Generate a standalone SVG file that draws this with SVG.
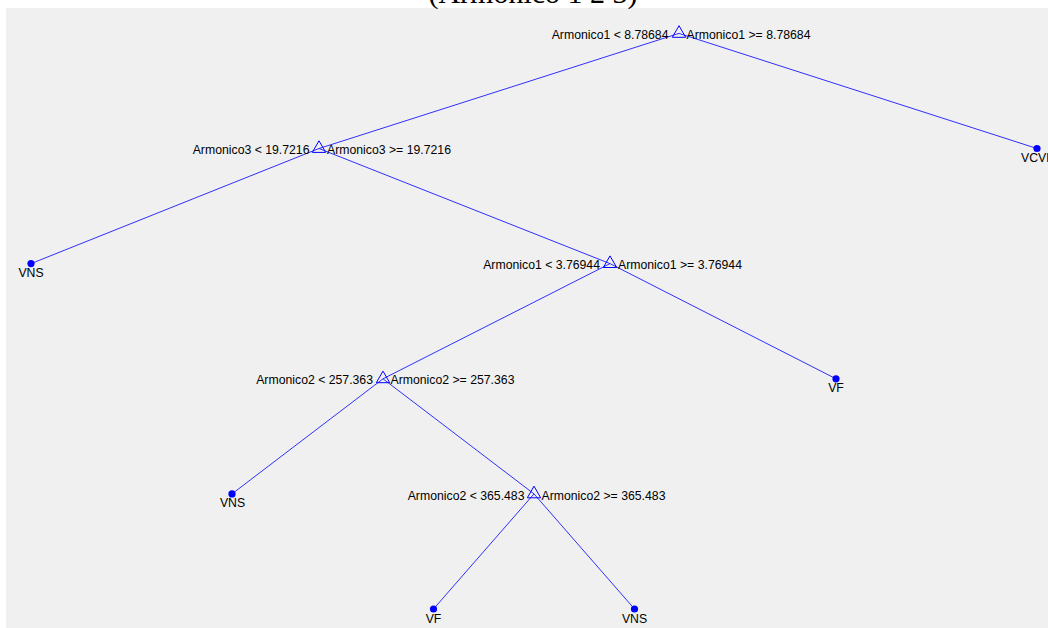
<svg xmlns="http://www.w3.org/2000/svg" width="1048" height="628" viewBox="0 0 1048 628">
<style>
.lbl{font-family:"Liberation Sans",Arial,sans-serif;font-size:12.25px;fill:#000}
.l{text-anchor:end}
.r{text-anchor:start}
.leaf{text-anchor:middle}
.edge{stroke:#1a1aff;stroke-width:0.9;fill:none}
.tri{stroke:#0000ff;stroke-width:1;fill:none}
.dot{fill:#0000ff}
</style>
<rect x="0" y="0" width="1048" height="628" fill="#ffffff"/>
<rect x="6" y="8" width="1042" height="620" fill="#f0f0f0"/>
<text x="533" y="3" text-anchor="middle" font-family="'Liberation Serif','Times New Roman',serif" font-size="30" fill="#000">(Armonico 1 2 3)</text>
<g id="connectors">
<line class="edge" x1="679" y1="33.4" x2="319" y2="148.5"/>
<line class="edge" x1="679" y1="33.4" x2="1037" y2="148.5"/>
<line class="edge" x1="319" y1="148.5" x2="31" y2="263.6"/>
<line class="edge" x1="319" y1="148.5" x2="610" y2="263.6"/>
<line class="edge" x1="610" y1="263.6" x2="383" y2="378.8"/>
<line class="edge" x1="610" y1="263.6" x2="836" y2="378.8"/>
<line class="edge" x1="383" y1="378.8" x2="232" y2="493.9"/>
<line class="edge" x1="383" y1="378.8" x2="534" y2="493.9"/>
<line class="edge" x1="534" y1="493.9" x2="433.5" y2="609"/>
<line class="edge" x1="534" y1="493.9" x2="634.5" y2="609"/>
</g>
<g id="n1">
<polygon class="tri" points="679,25.7 685.7,37.3 672.3,37.3"/>
<text class="lbl l" x="668.5" y="39">Armonico1 &lt; 8.78684</text>
<text class="lbl r" x="686.5" y="39">Armonico1 &gt;= 8.78684</text>
</g>
<g id="n2">
<polygon class="tri" points="319,140.8 325.7,152.4 312.3,152.4"/>
<text class="lbl l" x="309.5" y="154.1">Armonico3 &lt; 19.7216</text>
<text class="lbl r" x="327" y="154.1">Armonico3 &gt;= 19.7216</text>
</g>
<g id="n3">
<circle class="dot" cx="1037" cy="148.5" r="3.6"/>
<text class="lbl leaf" x="1037" y="162">VCVL</text>
</g>
<g id="n4">
<circle class="dot" cx="31" cy="263.6" r="3.6"/>
<text class="lbl leaf" x="31" y="277.1">VNS</text>
</g>
<g id="n5">
<polygon class="tri" points="610,255.9 616.7,267.5 603.3,267.5"/>
<text class="lbl l" x="600" y="269.2">Armonico1 &lt; 3.76944</text>
<text class="lbl r" x="618" y="269.2">Armonico1 &gt;= 3.76944</text>
</g>
<g id="n6">
<polygon class="tri" points="383,371.1 389.7,382.7 376.3,382.7"/>
<text class="lbl l" x="373" y="384.4">Armonico2 &lt; 257.363</text>
<text class="lbl r" x="390.5" y="384.4">Armonico2 &gt;= 257.363</text>
</g>
<g id="n7">
<circle class="dot" cx="836" cy="378.8" r="3.6"/>
<text class="lbl leaf" x="836" y="392.3">VF</text>
</g>
<g id="n8">
<circle class="dot" cx="232" cy="493.9" r="3.6"/>
<text class="lbl leaf" x="232.5" y="507.4">VNS</text>
</g>
<g id="n9">
<polygon class="tri" points="534,486.2 540.7,497.8 527.3,497.8"/>
<text class="lbl l" x="524.5" y="499.5">Armonico2 &lt; 365.483</text>
<text class="lbl r" x="541.5" y="499.5">Armonico2 &gt;= 365.483</text>
</g>
<g id="n10">
<circle class="dot" cx="433.5" cy="609" r="3.6"/>
<text class="lbl leaf" x="433.5" y="622.5">VF</text>
</g>
<g id="n11">
<circle class="dot" cx="634.5" cy="609" r="3.6"/>
<text class="lbl leaf" x="634.5" y="622.5">VNS</text>
</g>
</svg>
